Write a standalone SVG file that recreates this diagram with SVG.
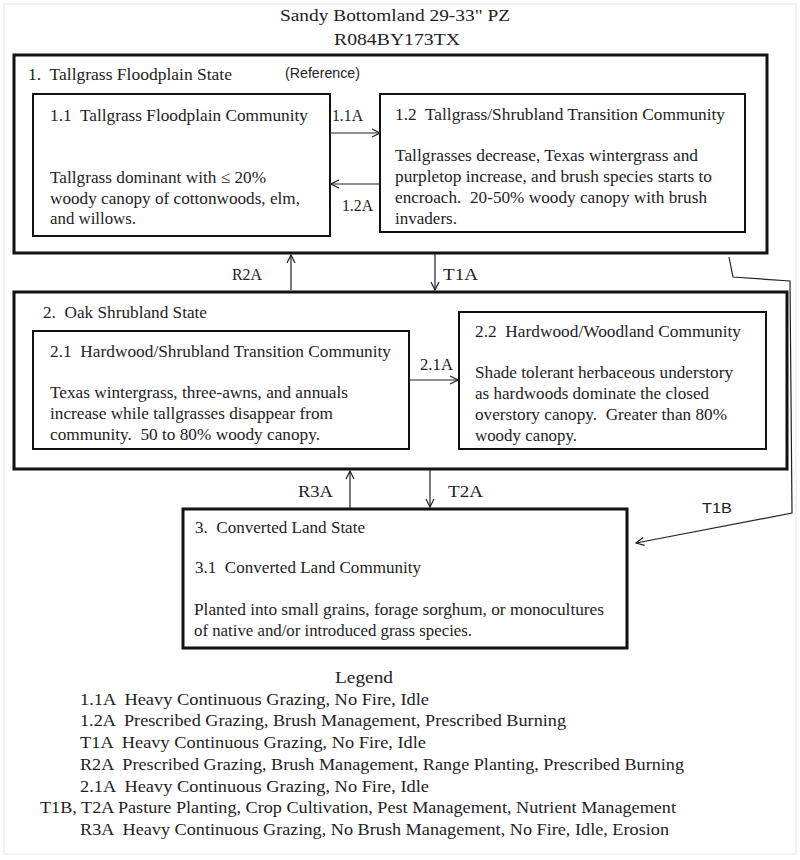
<svg xmlns="http://www.w3.org/2000/svg" width="800" height="860" viewBox="0 0 800 860">
<defs>
<style>
text{font-family:"Liberation Serif","Times New Roman",serif;font-size:17px;fill:#222;white-space:pre}
.sans{font-family:"Liberation Sans",Arial,sans-serif;font-size:14px}
.state{fill:#fff;stroke:#111;stroke-width:3}
.comm{fill:#fff;stroke:#111;stroke-width:2}
.conn{fill:none;stroke:#222;stroke-width:1.2;marker-end:url(#arr)}
</style>
<marker id="arr" viewBox="0 0 10 10" refX="9" refY="5" markerWidth="10" markerHeight="10" markerUnits="userSpaceOnUse" orient="auto">
<path d="M1,1 L9,5 L1,9" fill="none" stroke="#222" stroke-width="1.2"/>
</marker>
</defs>
<rect x="0" y="0" width="800" height="860" fill="#fff"/>
<rect x="4" y="4" width="792" height="850" fill="none" stroke="#e4e4e4" stroke-width="1"/>
<g id="title">
<text x="280" y="21" textLength="230" lengthAdjust="spacingAndGlyphs">Sandy Bottomland 29-33" PZ</text>
<text x="334" y="45" textLength="126" lengthAdjust="spacingAndGlyphs">R084BY173TX</text>
</g>
<g id="state1">
<rect class="state" x="14" y="55" width="753" height="198"/>
<text x="28" y="80" textLength="204" lengthAdjust="spacingAndGlyphs">1.  Tallgrass Floodplain State</text>
<text class="sans" x="285" y="78" textLength="75" lengthAdjust="spacingAndGlyphs">(Reference)</text>
</g>
<g id="comm11">
<rect class="comm" x="33" y="94" width="297" height="142"/>
<text x="50" y="121" textLength="258" lengthAdjust="spacingAndGlyphs">1.1  Tallgrass Floodplain Community</text>
<text x="50" y="183" textLength="216" lengthAdjust="spacingAndGlyphs">Tallgrass dominant with ≤ 20%</text>
<text x="50" y="204" textLength="250" lengthAdjust="spacingAndGlyphs">woody canopy of cottonwoods, elm,</text>
<text x="50" y="224" textLength="86" lengthAdjust="spacingAndGlyphs">and willows.</text>
</g>
<g id="comm12">
<rect class="comm" x="380" y="94" width="365" height="138"/>
<text x="395" y="120" textLength="330" lengthAdjust="spacingAndGlyphs">1.2  Tallgrass/Shrubland Transition Community</text>
<text x="395" y="161" textLength="303" lengthAdjust="spacingAndGlyphs">Tallgrasses decrease, Texas wintergrass and</text>
<text x="395" y="182" textLength="317" lengthAdjust="spacingAndGlyphs">purpletop increase, and brush species starts to</text>
<text x="395" y="203" textLength="312" lengthAdjust="spacingAndGlyphs">encroach.  20-50% woody canopy with brush</text>
<text x="395" y="224" textLength="62" lengthAdjust="spacingAndGlyphs">invaders.</text>
</g>
<g id="state2">
<rect class="state" x="14" y="292" width="773" height="177"/>
<text x="43" y="318" textLength="164" lengthAdjust="spacingAndGlyphs">2.  Oak Shrubland State</text>
</g>
<g id="comm21">
<rect class="comm" x="33" y="331" width="376" height="118"/>
<text x="50" y="357" textLength="341" lengthAdjust="spacingAndGlyphs">2.1  Hardwood/Shrubland Transition Community</text>
<text x="50" y="398" textLength="298" lengthAdjust="spacingAndGlyphs">Texas wintergrass, three-awns, and annuals</text>
<text x="50" y="419" textLength="283" lengthAdjust="spacingAndGlyphs">increase while tallgrasses disappear from</text>
<text x="50" y="440" textLength="270" lengthAdjust="spacingAndGlyphs">community.  50 to 80% woody canopy.</text>
</g>
<g id="comm22">
<rect class="comm" x="459" y="312" width="307" height="137"/>
<text x="475" y="337" textLength="266" lengthAdjust="spacingAndGlyphs">2.2  Hardwood/Woodland Community</text>
<text x="475" y="378" textLength="258" lengthAdjust="spacingAndGlyphs">Shade tolerant herbaceous understory</text>
<text x="475" y="399" textLength="234" lengthAdjust="spacingAndGlyphs">as hardwoods dominate the closed</text>
<text x="475" y="420" textLength="252" lengthAdjust="spacingAndGlyphs">overstory canopy.  Greater than 80%</text>
<text x="475" y="441" textLength="102" lengthAdjust="spacingAndGlyphs">woody canopy.</text>
</g>
<g id="state3">
<rect class="state" x="183" y="509" width="444" height="139"/>
<text x="195" y="533" textLength="170" lengthAdjust="spacingAndGlyphs">3.  Converted Land State</text>
<text x="195" y="573" textLength="226" lengthAdjust="spacingAndGlyphs">3.1  Converted Land Community</text>
<text x="194" y="615" textLength="410" lengthAdjust="spacingAndGlyphs">Planted into small grains, forage sorghum, or monocultures</text>
<text x="194" y="636" textLength="278" lengthAdjust="spacingAndGlyphs">of native and/or introduced grass species.</text>
</g>
<g id="connectors">
<line class="conn" x1="330" y1="133" x2="380" y2="133"/>
<line class="conn" x1="380" y1="184" x2="331" y2="184"/>
<line class="conn" x1="291" y1="290" x2="291" y2="255"/>
<line class="conn" x1="435" y1="254" x2="435" y2="290"/>
<line class="conn" x1="409" y1="380" x2="458" y2="380"/>
<line class="conn" x1="350" y1="508" x2="350" y2="471"/>
<line class="conn" x1="430" y1="470" x2="430" y2="507"/>
<polyline class="conn" points="729,257 733,277 790,281 792,513 636,543"/>
<text x="332" y="121" textLength="31" lengthAdjust="spacingAndGlyphs">1.1A</text>
<text x="342" y="211" textLength="31" lengthAdjust="spacingAndGlyphs">1.2A</text>
<text x="232" y="280" textLength="30" lengthAdjust="spacingAndGlyphs">R2A</text>
<text x="443" y="280" textLength="35" lengthAdjust="spacingAndGlyphs">T1A</text>
<text x="420" y="370" textLength="33" lengthAdjust="spacingAndGlyphs">2.1A</text>
<text x="298" y="497" textLength="35" lengthAdjust="spacingAndGlyphs">R3A</text>
<text x="448" y="497" textLength="35" lengthAdjust="spacingAndGlyphs">T2A</text>
<text class="sans" x="702" y="513" textLength="30" lengthAdjust="spacingAndGlyphs">T1B</text>
</g>
<g id="legend">
<text x="335" y="683" textLength="58" lengthAdjust="spacingAndGlyphs">Legend</text>
<text x="80" y="705" textLength="349" lengthAdjust="spacingAndGlyphs">1.1A  Heavy Continuous Grazing, No Fire, Idle</text>
<text x="80" y="726" textLength="486" lengthAdjust="spacingAndGlyphs">1.2A  Prescribed Grazing, Brush Management, Prescribed Burning</text>
<text x="80" y="748" textLength="346" lengthAdjust="spacingAndGlyphs">T1A  Heavy Continuous Grazing, No Fire, Idle</text>
<text x="80" y="770" textLength="604" lengthAdjust="spacingAndGlyphs">R2A  Prescribed Grazing, Brush Management, Range Planting, Prescribed Burning</text>
<text x="80" y="792" textLength="349" lengthAdjust="spacingAndGlyphs">2.1A  Heavy Continuous Grazing, No Fire, Idle</text>
<text x="40" y="813" textLength="636" lengthAdjust="spacingAndGlyphs">T1B, T2A Pasture Planting, Crop Cultivation, Pest Management, Nutrient Management</text>
<text x="80" y="835" textLength="589" lengthAdjust="spacingAndGlyphs">R3A  Heavy Continuous Grazing, No Brush Management, No Fire, Idle, Erosion</text>
</g>
</svg>
